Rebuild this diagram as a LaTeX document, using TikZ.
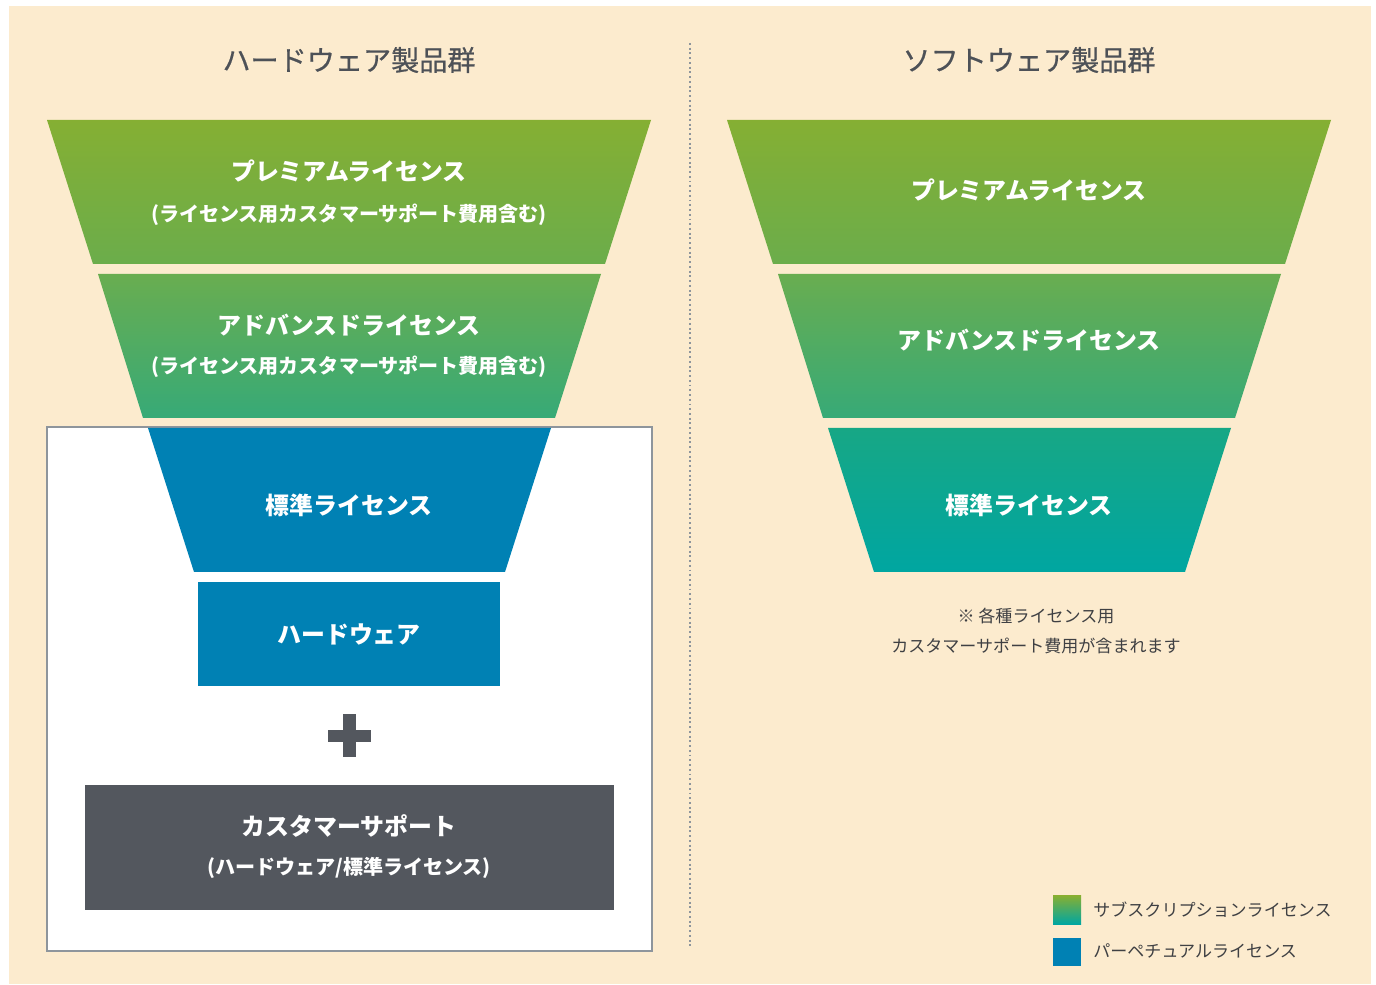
\documentclass[tikz,border=0pt]{standalone}
\usepackage{fontspec}
\setmainfont{Noto Sans CJK JP}
\newfontfamily\headfont[FakeBold=0.6]{Noto Sans CJK JP}

\definecolor{beige}{HTML}{FCEBCE}
\definecolor{headgray}{HTML}{4D5157}
\definecolor{notegray}{HTML}{3F4043}
\definecolor{darkgray}{HTML}{53575E}
\definecolor{boxgray}{HTML}{8E959C}
\definecolor{blue}{HTML}{0081B4}
\definecolor{greenA}{HTML}{85AF33}
\definecolor{greenB}{HTML}{6BAD4B}
\definecolor{greenC}{HTML}{69AD50}
\definecolor{greenD}{HTML}{37AA77}
\definecolor{tealA}{HTML}{17A785}
\definecolor{tealB}{HTML}{00A6A1}

\begin{document}
\begin{tikzpicture}[x=0.02cm, y=0.02cm,
    head/.style={text=headgray, font=\headfont\fontsize{16}{19}\selectfont},
    lbl/.style={text=white, font=\bfseries\fontsize{13.6}{16}\selectfont},
    sublbl/.style={text=white, font=\bfseries\fontsize{11.4}{14}\selectfont},
    note/.style={text=notegray, font=\fontsize{9.7}{17.5}\selectfont},
    layer1/.style={top color=greenA, bottom color=greenB},
    layer2/.style={top color=greenC, bottom color=greenD},
    layer3/.style={top color=tealA, bottom color=tealB}]

    \useasboundingbox (0,0) rectangle (1376,984);
    \fill[beige] (9,0) rectangle (1371,978);

    % dividing line
    \coordinate (dtop) at (690,941);
    \coordinate (dbot) at (690,38);
    \draw[boxgray, line width=1pt, dash pattern=on 1.1pt off 1.6pt] (dtop) -- (dbot);

    % hardware side
    \node [head] (hw) at (349,924) {ハードウェア製品群};

    \shade[layer1] (47,864) -- (651,864) -- (605,720) -- (93,720) -- cycle;
    \shade[layer2] (98,710) -- (601,710) -- (555,566) -- (143,566) -- cycle;

    \draw[boxgray, line width=1.4pt, fill=white] (47,557) rectangle (652,33);
    \fill[blue] (148,556) -- (551,556) -- (505,412) -- (194,412) -- cycle;

    \node [lbl] (hwPrem) at (349,813) {プレミアムライセンス};
    \node [sublbl] (hwPremSub) at (349,769) {(ライセンス用カスタマーサポート費用含む)};
    \node [lbl] (hwAdv) at (349,659) {アドバンスドライセンス};
    \node [sublbl] (hwAdvSub) at (349,617) {(ライセンス用カスタマーサポート費用含む)};
    \node [lbl] (hwStd) at (349,479) {標準ライセンス};

    \node [fill=blue, minimum width=302*0.02cm, minimum height=104*0.02cm,
           lbl] (hwBox) at (349,350) {ハードウェア};

    \fill[darkgray] (328,242) rectangle (371,254);
    \fill[darkgray] (343,227) rectangle (356,270);

    \node [fill=darkgray, minimum width=529*0.02cm, minimum height=125*0.02cm] (cs) at (349.5,136.5) {};
    \node [lbl] (csTitle) at (349,158) {カスタマーサポート};
    \node [sublbl] (csSub) at (349,116) {(ハードウェア/標準ライセンス)};

    % software side
    \node [head] (sw) at (1029,924) {ソフトウェア製品群};

    \shade[layer1] (727,864) -- (1331,864) -- (1285,720) -- (773,720) -- cycle;
    \shade[layer2] (778,710) -- (1281,710) -- (1235,566) -- (823,566) -- cycle;
    \shade[layer3] (828,556) -- (1231,556) -- (1185,412) -- (874,412) -- cycle;

    \node [lbl] (swPrem) at (1029,794) {プレミアムライセンス};
    \node [lbl] (swAdv) at (1029,644) {アドバンスドライセンス};
    \node [lbl] (swStd) at (1029,479) {標準ライセンス};

    \node [note, align=center] (swNote) at (1036,353) {※ 各種ライセンス用\\カスタマーサポート費用が含まれます};

    % legend
    \shade[top color=greenA, bottom color=tealB] (1053,88) rectangle (1081,60);
    \fill[blue] (1053,46) rectangle (1081,18);
    \node [note, anchor=west, inner sep=0pt] (subs) at (1093,74) {サブスクリプションライセンス};
    \node [note, anchor=west, inner sep=0pt] (perp) at (1093,33) {パーペチュアルライセンス};

\end{tikzpicture}
\end{document}
